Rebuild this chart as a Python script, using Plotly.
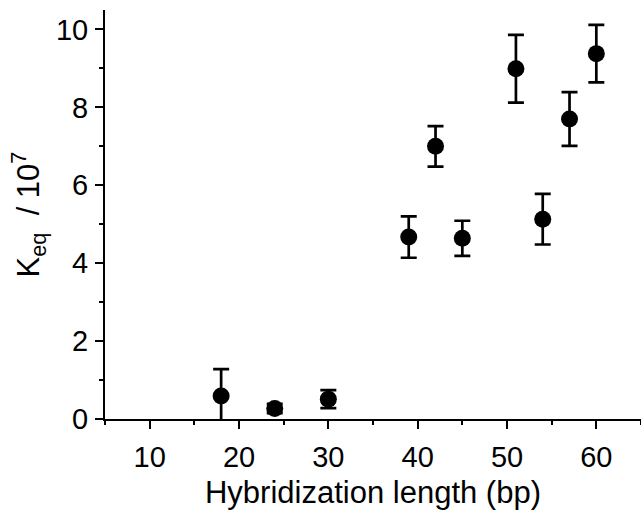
import plotly.graph_objects as go

# hybridization length (bp) vs Keq / 1e7
length_bp = [18, 24, 30, 39, 42, 45, 51, 54, 57, 60]
keq = [0.59, 0.27, 0.51, 4.67, 7.00, 4.64, 8.99, 5.13, 7.70, 9.38]
keq_err = [0.69, 0.12, 0.23, 0.53, 0.52, 0.45, 0.87, 0.65, 0.69, 0.74]

x_ticks = [10, 20, 30, 40, 50, 60]
y_ticks = [0, 2, 4, 6, 8, 10]

font_name = "Liberation Sans, Arial, sans-serif"

fig = go.Figure()
fig.add_trace(go.Scatter(
    x=length_bp, y=keq, mode="markers",
    marker=dict(size=17, color="black"),
    error_y=dict(type="data", array=keq_err, visible=True,
                 color="black", thickness=2.7, width=8),
    showlegend=False,
))

axis_common = dict(
    showline=True, linecolor="black", linewidth=2,
    ticks="outside", ticklen=8, tickwidth=2, tickcolor="black",
    showgrid=False, zeroline=False, mirror=False,
    tickfont=dict(size=29, color="black", family=font_name),
    minor=dict(ticks="outside", ticklen=4, tickwidth=2, tickcolor="black"),
)

fig.update_xaxes(
    range=[5, 65], tickvals=x_ticks, ticklabelstandoff=3,
    title=dict(text="Hybridization length (bp)",
               font=dict(size=31, color="black", family=font_name), standoff=10),
    **axis_common,
)
fig.update_xaxes(minor_dtick=5, minor_tick0=5)
fig.update_yaxes(
    range=[0, 10.5], tickvals=y_ticks, ticklabelstandoff=1,
    title=dict(text="K<sub>eq</sub>  / 10<sup>7</sup>",
               font=dict(size=31, color="black", family=font_name), standoff=7),
    **axis_common,
)
fig.update_yaxes(minor_dtick=1, minor_tick0=1)

fig.update_layout(
    width=641, height=510,
    margin=dict(l=105, r=0, t=10, b=91),
    plot_bgcolor="white", paper_bgcolor="white",
    font=dict(family=font_name, color="black"),
)

# drop the default body margin so the figure fills the window exactly
fig.write_html("out.html", config={"displayModeBar": False},
               post_script="document.body.style.margin='0';document.body.style.overflow='hidden';")
